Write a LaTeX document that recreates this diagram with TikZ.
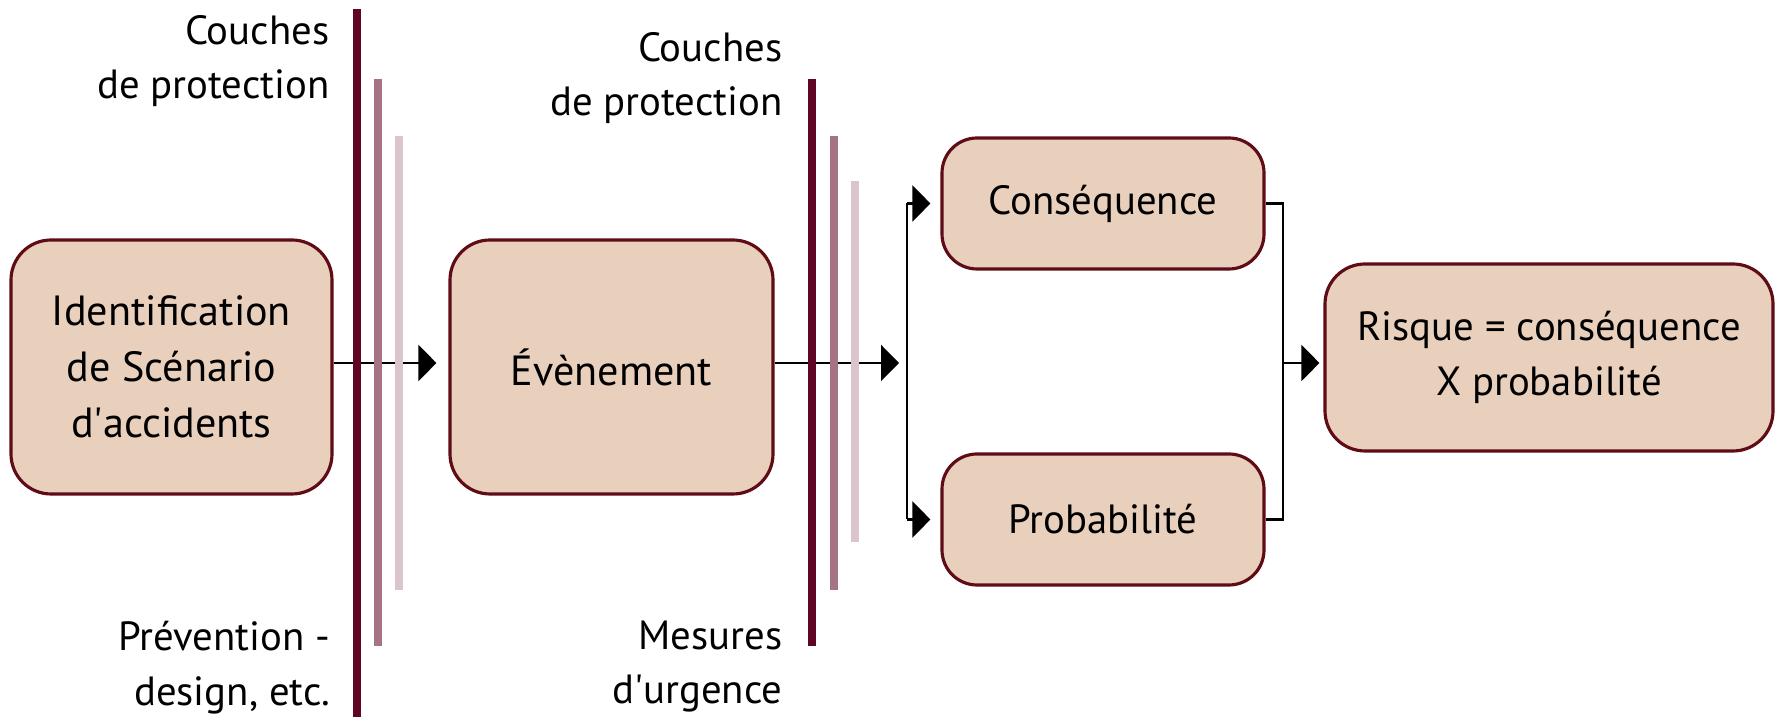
\documentclass[tikz,border=0pt]{standalone}
\usepackage{fontspec}
\setmainfont{PT Sans}
\usetikzlibrary{arrows.meta}

\definecolor{boxfill}{RGB}{233,208,189}
\definecolor{boxline}{RGB}{96,12,22}
\definecolor{layerdark}{RGB}{94,6,36}
\definecolor{layermid}{RGB}{165,115,130}
\definecolor{layerlight}{RGB}{220,196,203}

\begin{document}
\begin{tikzpicture}[
    box/.style={draw=boxline, line width=0.9pt, fill=boxfill, rounded corners=0.4cm, align=center, font=\fontsize{12}{16}\selectfont},
    smallbox/.style={box, minimum width=3.22cm, minimum height=1.31cm, rounded corners=0.35cm, font=\fontsize{11.6}{15}\selectfont},
    note/.style={anchor=east, align=right, inner sep=0pt, font=\fontsize{11.6}{15.5}\selectfont},
    layer/.style={line width=0.08cm},
    arrow/.style={-{Triangle[length=0.18cm,width=0.36cm]}, line width=0.7pt},
    link/.style={line width=0.7pt}
]
    \useasboundingbox (0,0) rectangle (17.78,7.22);

    % Scenario
    \node[box, minimum width=3.21cm, minimum height=2.54cm] (scen) at (1.715,3.55) {Identification\\de Sc\'enario\\d\textquotesingle accidents};

    % Event
    \node[box, minimum width=3.23cm, minimum height=2.54cm] (even) at (6.115,3.55) {\'Ev\`enement};

    % Consequence and probability
    \node[smallbox] (cons) at (11.03,5.185) {Cons\'equence};
    \node[smallbox] (prob) at (11.03,2.025) {Probabilit\'e};

    % Risk
    \node[box, minimum width=4.48cm, minimum height=1.87cm, font=\fontsize{11.6}{15.5}\selectfont] (risk) at (15.49,3.645) {Risque = cons\'equence\\X probabilit\'e};

    % Layer labels
    \node[note] (prot1) at (3.30,6.61) {Couches\\de protection};
    \node[note] (prev) at (3.31,0.545) {Pr\'evention -\\design, etc.};
    \node[note] (prot2) at (7.83,6.44) {Couches\\de protection};
    \node[note] (urg) at (7.83,0.555) {Mesures\\d\textquotesingle urgence};

    % Arrows
    \coordinate (split) at (9.07,3.59);
    \coordinate (join) at (12.83,3.59);
    \draw[arrow, shorten >=0.12cm] (scen.east |- split) -- (even.west |- split);
    \draw[arrow, shorten >=0.08cm] (even.east |- split) -- (split);
    \draw[link] (split |- cons) -- (split |- prob);
    \draw[arrow, shorten >=0.1cm] (split |- cons) -- (cons.west);
    \draw[arrow, shorten >=0.1cm] (split |- prob) -- (prob.west);
    \draw[link] (cons.east) -| (join) |- (prob.east);
    \draw[arrow, shorten >=0.04cm] (join) -- (risk.west |- join);

    % Protection layers
    \draw[layer, layerdark] (3.57,7.13) -- (3.57,0.05);
    \draw[layer, layermid] (3.78,6.43) -- (3.78,0.76);
    \draw[layer, layerlight] (3.99,5.86) -- (3.99,1.32);
    \draw[layer, layerdark] (8.12,6.43) -- (8.12,0.76);
    \draw[layer, layermid] (8.34,5.86) -- (8.34,1.32);
    \draw[layer, layerlight] (8.55,5.41) -- (8.55,1.80);
\end{tikzpicture}
\end{document}
